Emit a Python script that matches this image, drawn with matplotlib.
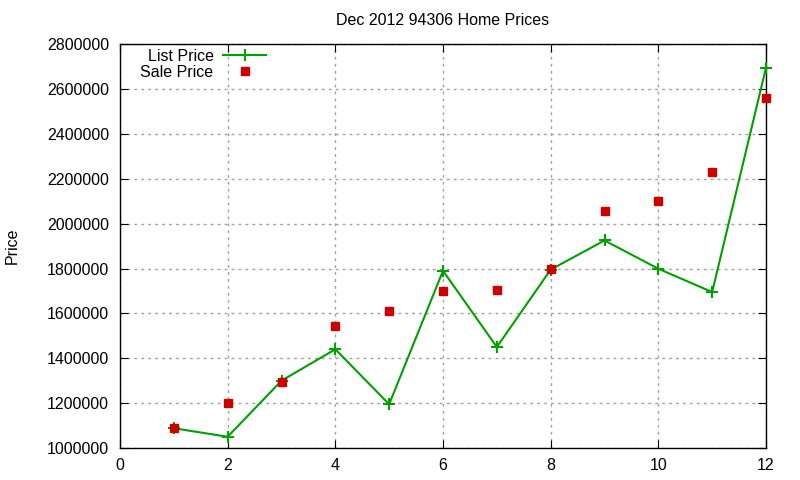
import matplotlib
matplotlib.use('Agg')
from matplotlib import pyplot as plt

plt.rcParams['font.family'] = ['Liberation Sans', 'DejaVu Sans']

months = [1, 2, 3, 4, 5, 6, 7, 8, 9, 10, 11, 12]
list_price = [1088000, 1050000, 1300000, 1440000, 1195000, 1790000,
              1450000, 1795000, 1925000, 1799000, 1695000, 2695000]
sale_price = [1089000, 1199000, 1295000, 1545000, 1612000, 1700000,
              1705000, 1800000, 2055000, 2100000, 2230000, 2562000]

fig = plt.figure(figsize=(8, 4.8), dpi=100)
ax = fig.add_axes([0.15, 0.0667, 0.8075, 0.8413])

ax.plot(months, list_price, color='#00a000', lw=1.5, marker='+', ms=9,
        mew=1.5, label='List Price', clip_on=False, zorder=3)
ax.plot(months, sale_price, color='#cc0000', ls='none', marker='s', ms=6,
        label='Sale Price', clip_on=False, zorder=4)

ax.set_xlim(0, 12)
ax.set_ylim(1000000, 2800000)
ax.set_xticks(range(0, 13, 2))
ax.set_yticks(range(1000000, 2800001, 200000))
ax.ticklabel_format(style='plain', axis='y', useOffset=False)
ax.tick_params(direction='in', top=True, right=True, length=6, labelsize=11.5)
ax.tick_params(axis='y', pad=8)
ax.tick_params(axis='x', pad=7)
ax.grid(True, color='#a0a0a0', ls=(0, (2, 3)), lw=1)
for s in ax.spines.values():
    s.set_linewidth(1)

ax.set_title('Dec 2012 94306 Home Prices', fontsize=11.5, pad=14)
fig.text(5 / 800, 1 - 246 / 480, 'Price', rotation=90, fontsize=11.5,
         ha='left', va='center')

ax.legend(loc='upper right', frameon=False, markerfirst=False, fontsize=11.5,
          handlelength=2.7, handletextpad=0.6, borderaxespad=0, borderpad=0.3,
          labelspacing=0.05, bbox_to_anchor=(271 / 800, 1 - 44 / 480),
          bbox_transform=fig.transFigure)

plt.savefig('out.png', dpi=100)
